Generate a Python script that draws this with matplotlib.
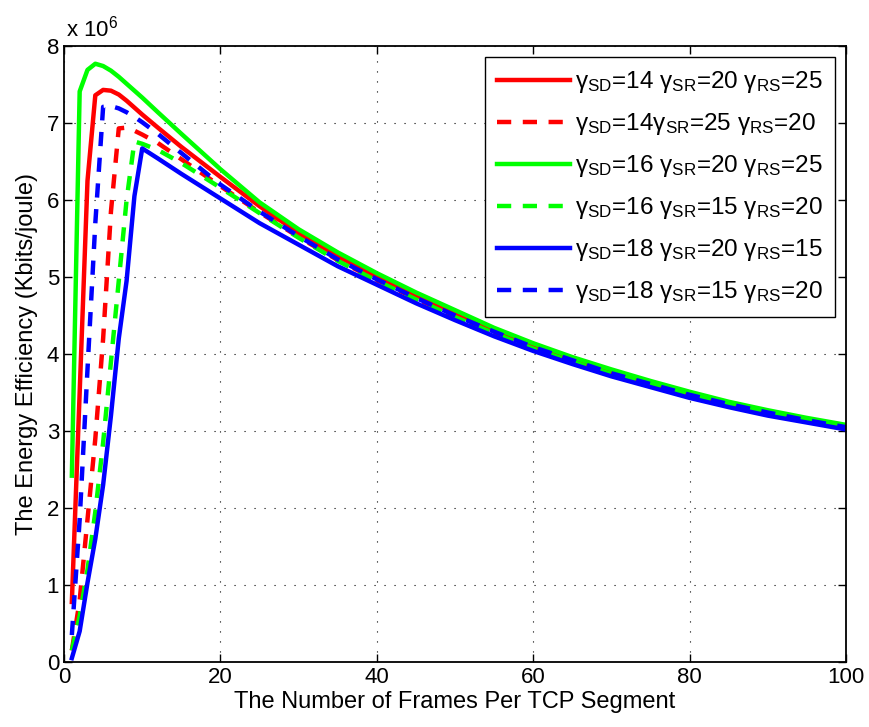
import matplotlib
matplotlib.use("Agg")
import matplotlib.pyplot as plt

plt.rcParams['font.family'] = ['Liberation Sans', 'DejaVu Sans']
plt.rcParams['mathtext.fontset'] = 'custom'
plt.rcParams['mathtext.rm'] = 'Liberation Sans'
plt.rcParams['mathtext.default'] = 'regular'

# frames per TCP segment
frames = [1, 2, 3, 4, 5, 6, 7, 8, 9, 10, 12, 15, 20, 25, 30, 35, 40, 45, 50,
          55, 60, 65, 70, 75, 80, 85, 90, 95, 100]

# energy efficiency, in units of 1e6 Kbits/joule
red_solid = [0.78, 3.50, 6.25, 7.36, 7.43, 7.42, 7.37, 7.29, 7.20, 7.11, 6.94, 6.69, 6.30,
             5.92, 5.57, 5.27, 5.00, 4.76, 4.53, 4.31, 4.10, 3.93, 3.76, 3.61, 3.48,
             3.35, 3.24, 3.14, 3.05]
red_dash = [0.15, 0.80, 1.85, 2.90, 4.20, 5.85, 6.93, 6.94, 6.90, 6.85, 6.74, 6.53, 6.18,
            5.84, 5.52, 5.22, 4.96, 4.72, 4.49, 4.28, 4.08, 3.91, 3.74, 3.60, 3.46,
            3.34, 3.23, 3.13, 3.04]
green_solid = [2.42, 7.41, 7.69, 7.77, 7.74, 7.68, 7.60, 7.51, 7.42, 7.33, 7.14, 6.86, 6.40,
               5.97, 5.62, 5.32, 5.05, 4.80, 4.57, 4.34, 4.14, 3.96, 3.80, 3.65, 3.51,
               3.38, 3.27, 3.17, 3.08]
green_dash = [0.15, 0.60, 1.20, 1.95, 2.85, 3.90, 4.95, 6.00, 6.76, 6.73, 6.65, 6.48, 6.16,
              5.83, 5.51, 5.21, 4.95, 4.71, 4.48, 4.27, 4.07, 3.90, 3.74, 3.60, 3.46,
              3.34, 3.23, 3.14, 3.05]
blue_solid = [0.05, 0.40, 1.03, 1.60, 2.30, 3.20, 4.20, 4.95, 6.05, 6.67, 6.54, 6.34, 6.02,
              5.70, 5.42, 5.14, 4.90, 4.66, 4.44, 4.23, 4.04, 3.87, 3.71, 3.57, 3.43,
              3.31, 3.20, 3.11, 3.02]
blue_dash = [0.35, 1.85, 3.80, 5.70, 7.21, 7.22, 7.19, 7.14, 7.08, 7.01, 6.86, 6.61, 6.20,
             5.85, 5.53, 5.23, 4.97, 4.73, 4.50, 4.29, 4.09, 3.92, 3.75, 3.61, 3.47,
             3.35, 3.24, 3.14, 3.05]

labels = [r'γ$_{SD}$=14 γ$_{SR}$=20 γ$_{RS}$=25',
          r'γ$_{SD}$=14γ$_{SR}$=25 γ$_{RS}$=20',
          r'γ$_{SD}$=16 γ$_{SR}$=20 γ$_{RS}$=25',
          r'γ$_{SD}$=16 γ$_{SR}$=15 γ$_{RS}$=20',
          r'γ$_{SD}$=18 γ$_{SR}$=20 γ$_{RS}$=15',
          r'γ$_{SD}$=18 γ$_{SR}$=15 γ$_{RS}$=20']

series = [red_solid, red_dash, green_solid, green_dash, blue_solid, blue_dash]
colors = ['#ff0000', '#ff0000', '#00ff00', '#00ff00', '#0000ff', '#0000ff']
styles = ['-', '--', '-', '--', '-', '--']

fig = plt.figure(figsize=(8.7, 7.27), dpi=100)
ax = fig.add_axes([0.0736, 0.0894, 0.8988, 0.8473])

for ys, c, ls, lab in zip(series, colors, styles, labels):
    line, = ax.plot(frames, ys, color=c, linestyle=ls, lw=3.2, label=lab)
    if ls == '--':
        line.set_dashes((3.2, 2.6))

ax.set_xlim(0, 100)
ax.set_ylim(0, 8)
ax.set_xticks([0, 20, 40, 60, 80, 100])
ax.set_yticks(range(9))
ax.grid(True, color='k', linestyle=(0, (1, 8)), lw=0.8)
ax.tick_params(direction='in', top=True, right=True, length=6, width=1, labelsize=16)
for s in ax.spines.values():
    s.set_linewidth(1.3)

ax.set_xlabel('The Number of Frames Per TCP Segment', fontsize=17, labelpad=2)
ax.set_ylabel('The Energy Efficiency (Kbits/joule)', fontsize=17, labelpad=6)
ax.text(0.003, 1.008, r'x 10$^{6}$', transform=ax.transAxes, ha='left', va='bottom', fontsize=16)

leg = ax.legend(loc='upper right', fontsize=17.5, handlelength=3.0, labelspacing=0.66,
                fancybox=False, framealpha=1, edgecolor='k', borderaxespad=0.45,
                handletextpad=0.2, borderpad=0.5)
leg.get_frame().set_linewidth(1.0)

fig.savefig('out.png', dpi=100)
